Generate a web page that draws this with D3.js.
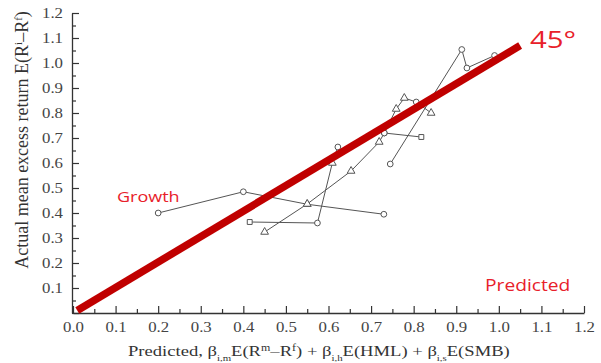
<!DOCTYPE html>
<html>
<head>
<meta charset="utf-8">
<script src="https://cdn.jsdelivr.net/npm/d3@7"></script>
<style>
  html, body { margin: 0; padding: 0; background: #fff; }
  svg { display: block; }
</style>
</head>
<body>
<svg id="chart" width="601" height="363"></svg>
<script>
// Axis ticks
const majorTicks = [0.0, 0.1, 0.2, 0.3, 0.4, 0.5, 0.6, 0.7, 0.8, 0.9, 1.0, 1.1, 1.2];
const minorTicks = [0.05, 0.15, 0.25, 0.35, 0.45, 0.55, 0.65, 0.75, 0.85, 0.95, 1.05, 1.15];
const yTickLabels = ["", "0.1", "0.2", "0.3", "0.4", "0.5", "0.6", "0.7", "0.8", "0.9", "1.0", "1.1", "1.2"];

// Portfolio paths: predicted (x) vs actual (y) mean excess returns
const growthX = [0.20, 0.40, 0.55, 0.73];
const growthY = [0.40, 0.485, 0.435, 0.395];
const growthMk = ["circle", "circle", "triangle", "circle"];

const smallX = [0.415, 0.574, 0.609, 0.622];
const smallY = [0.364, 0.360, 0.600, 0.664];
const smallMk = ["square", "circle", "triangle", "circle"];

const diagX = [0.45, 0.55, 0.653, 0.719, 0.731, 0.759, 0.778, 0.806, 0.841];
const diagY = [0.324, 0.436, 0.568, 0.684, 0.72, 0.816, 0.86, 0.844, 0.80];
const diagMk = ["triangle", "triangle", "triangle", "triangle", "circle", "triangle", "triangle", "circle", "triangle"];

const midX = [0.731, 0.818];
const midY = [0.72, 0.704];
const midMk = ["circle", "square"];

const valueX = [0.745, 0.913, 0.925, 0.99];
const valueY = [0.596, 1.054, 0.98, 1.03];
const valueMk = ["circle", "circle", "circle", "circle"];

// 45-degree reference line
const refX = [0.01, 1.05];
const refY = [0.01, 1.07];

const svg = d3.select("#chart");
const x = d3.scaleLinear().domain([0, 1.2]).range([73, 584]);
const y = d3.scaleLinear().domain([0, 1.2]).range([313, 13]);
const axisColor = "#333";
const serif = "Liberation Serif, DejaVu Serif, serif";
const stretch = 1.2;   // labels are set wide

// x axis: major + minor ticks pointing inward
const gx = svg.append("g").attr("transform", `translate(0,${y(0)})`);
gx.call(d3.axisBottom(x).tickValues(majorTicks).tickSizeInner(-7).tickSizeOuter(0)
  .tickPadding(9).tickFormat(d3.format(".1f")));
gx.append("g").call(d3.axisBottom(x).tickValues(minorTicks).tickSizeInner(-4).tickSizeOuter(0).tickFormat(""))
  .select(".domain").remove();
gx.attr("font-family", serif);
gx.selectAll("line").attr("stroke", axisColor).attr("stroke-width", 1.2);
gx.select(".domain").attr("stroke", axisColor).attr("stroke-width", 1.3);
gx.selectAll("text").attr("fill", "#444").attr("font-size", 14)
  .attr("transform", `scale(${stretch},1)`);

// y axis
const gy = svg.append("g").attr("transform", `translate(${x(0) - 1},0)`);
gy.call(d3.axisLeft(y).tickValues(majorTicks).tickSizeInner(-7).tickSizeOuter(0)
  .tickPadding(9).tickFormat((d, i) => yTickLabels[i]));
gy.append("g").call(d3.axisLeft(y).tickValues(minorTicks).tickSizeInner(-4).tickSizeOuter(0).tickFormat(""))
  .select(".domain").remove();
gy.attr("font-family", serif);
gy.selectAll("line").attr("stroke", axisColor).attr("stroke-width", 1.2);
gy.select(".domain").attr("stroke", axisColor).attr("stroke-width", 1.3);
gy.selectAll("text").attr("fill", "#444").attr("font-size", 14)
  .attr("x", -9 / stretch)
  .attr("transform", `scale(${stretch},1)`);

// axis titles
svg.append("text")
  .attr("transform", `translate(28,140) rotate(-90)`)
  .attr("text-anchor", "middle")
  .attr("font-family", serif)
  .attr("font-size", 18)
  .attr("fill", "#333")
  .html('Actual mean excess return E(R<tspan baseline-shift="super" font-size="11">i</tspan>–R<tspan baseline-shift="super" font-size="11">f</tspan>)');

svg.append("text")
  .attr("transform", `translate(128,356) scale(${stretch},1)`)
  .attr("text-anchor", "start")
  .attr("font-family", serif)
  .attr("font-size", 15.5)
  .attr("fill", "#333")
  .html('Predicted, β<tspan baseline-shift="sub" font-size="9">i,m</tspan>E(R<tspan baseline-shift="super" font-size="10">m</tspan>–R<tspan baseline-shift="super" font-size="10">f</tspan>) + β<tspan baseline-shift="sub" font-size="9">i,h</tspan>E(HML) + β<tspan baseline-shift="sub" font-size="9">i,s</tspan>E(SMB)');

// portfolio paths
const series = [
  [growthX, growthY, growthMk],
  [smallX, smallY, smallMk],
  [diagX, diagY, diagMk],
  [midX, midY, midMk],
  [valueX, valueY, valueMk]
];
const line = d3.line().x(d => x(d[0])).y(d => y(d[1]));
const symbols = { circle: d3.symbolCircle, square: d3.symbolSquare, triangle: d3.symbolTriangle };

series.forEach(([xs, ys]) => {
  svg.append("path")
    .datum(xs.map((v, i) => [v, ys[i]]))
    .attr("d", line)
    .attr("fill", "none")
    .attr("stroke", "#555")
    .attr("stroke-width", 1);
});
series.forEach(([xs, ys, mk]) => {
  svg.selectAll(null)
    .data(xs.map((v, i) => [v, ys[i], mk[i]]))
    .enter().append("path")
    .attr("transform", d => `translate(${x(d[0])},${y(d[1])})`)
    .attr("d", d => d3.symbol().type(symbols[d[2]]).size(d[2] === "square" ? 24 : 26)())
    .attr("fill", "#fff")
    .attr("stroke", "#555")
    .attr("stroke-width", 1);
});

// 45-degree line
svg.append("line")
  .attr("x1", x(refX[0])).attr("y1", y(refY[0]))
  .attr("x2", x(refX[1])).attr("y2", y(refY[1]))
  .attr("stroke", "#c00000")
  .attr("stroke-width", 7.5);

// annotations
const red = "#e8202a";
function note(tx, ty, size, sx, label) {
  svg.append("text")
    .attr("transform", `translate(${tx},${ty}) scale(${sx},1)`)
    .attr("font-family", "Open Sans, sans-serif").attr("font-size", size)
    .attr("fill", red).text(label);
}
note(530, 48, 23.5, 1.25, "45°");
note(117, 202, 15, 1.2, "Growth");
note(485, 291, 16, 1.2, "Predicted");
</script>
</body>
</html>
